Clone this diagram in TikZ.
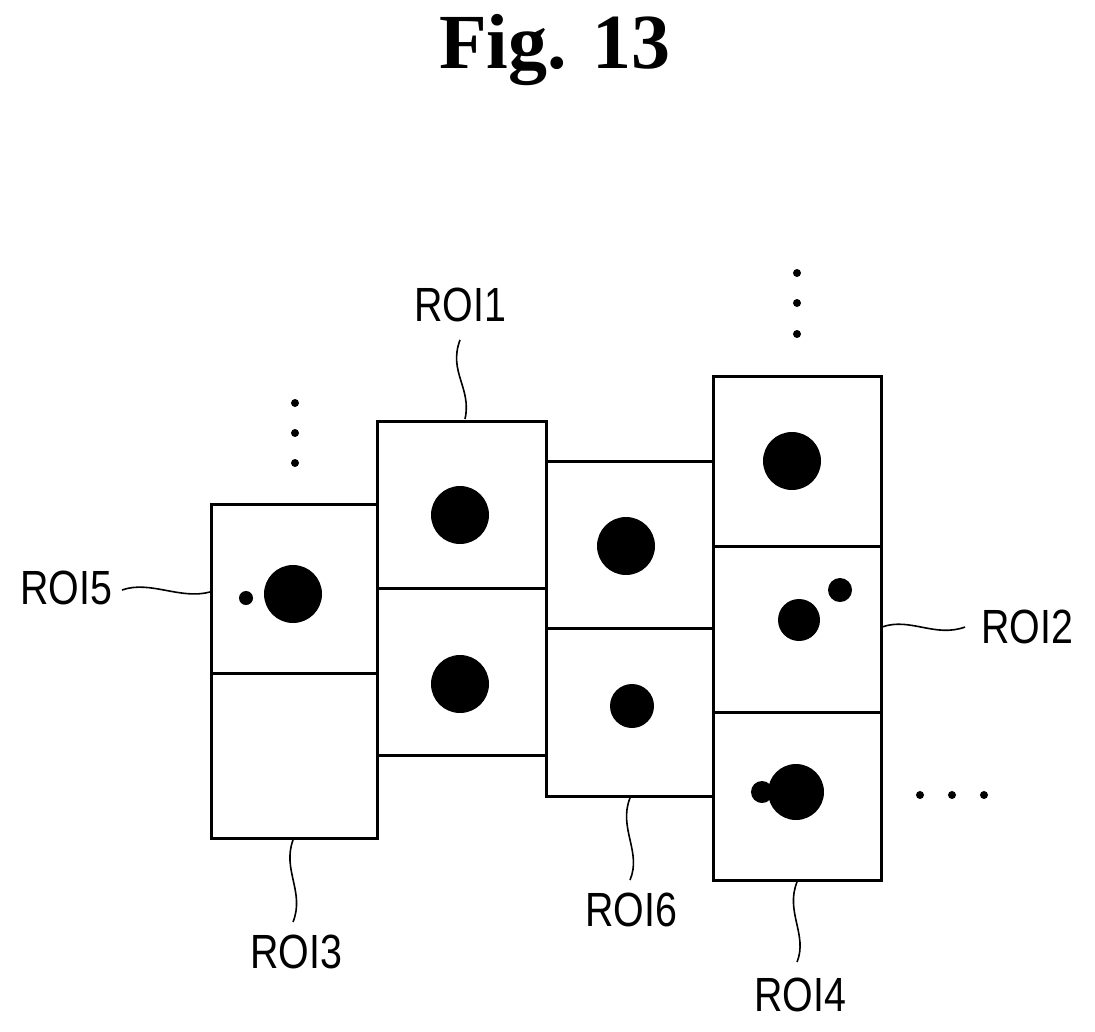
\documentclass[tikz,border=0pt]{standalone}
\usepackage{fontspec}
\setmainfont{Liberation Serif}
\setsansfont{Liberation Sans}
\begin{document}
\begin{tikzpicture}[x=1pt,y=-1pt,
  box/.style={draw,line width=3pt},
  dot/.style={fill=black},
  lbl/.style={font=\sffamily\fontsize{48}{48}\selectfont,xscale=0.82,inner sep=0pt},
  lead/.style={line width=1.6pt}]
\useasboundingbox (0,0) rectangle (1095,1031);
\node[font=\bfseries\fontsize{78}{78}\selectfont] (title) at (555,50) {Fig. 13};
% boxes
\draw[box] (211,504) rectangle (377,838); \draw[box] (211,673) -- (377,673);
\draw[box] (377,421) rectangle (546,755); \draw[box] (377,588) -- (546,588);
\draw[box] (546,461) rectangle (713,796); \draw[box] (546,628) -- (713,628);
\draw[box] (713,376) rectangle (881,880); \draw[box] (713,546) -- (881,546); \draw[box] (713,712) -- (881,712);
% blobs
\fill (293,594) circle (29); \fill (246,598) circle (7);
\fill (460,515) circle (29); \fill (460,684) circle (29);
\fill (626,546) circle (29); \fill (632,706) circle (22);
\fill (792,461) circle (29); \fill (799,620) circle (21); \fill (840,590) circle (12);
\fill (796,792) circle (28); \fill (762,792) circle (11);
% ellipsis dots
\foreach \y in {403,433,463} \fill (295,\y) circle (4);
\foreach \y in {273,303,334} \fill (797,\y) circle (4);
\foreach \x in {920,952,984} \fill (\x,795) circle (4);
% labels
\node[lbl] (r1) at (460,305) {ROI1};
\node[lbl] (r5) at (66,588) {ROI5};
\node[lbl] (r2) at (1027,627) {ROI2};
\node[lbl] (r3) at (296,952) {ROI3};
\node[lbl] (r6) at (631,910) {ROI6};
\node[lbl] (r4) at (800,995) {ROI4};
% leaders
\draw[lead] (460,340) .. controls (448,372) and (472,388) .. (465,419);
\draw[lead] (122,590) .. controls (150,580) and (180,600) .. (210,592);
\draw[lead] (882,627) .. controls (910,617) and (935,638) .. (965,627);
\draw[lead] (293,840) .. controls (282,870) and (305,892) .. (293,922);
\draw[lead] (630,798) .. controls (618,828) and (642,852) .. (630,880);
\draw[lead] (797,882) .. controls (785,912) and (808,935) .. (797,962);
\end{tikzpicture}
\end{document}
